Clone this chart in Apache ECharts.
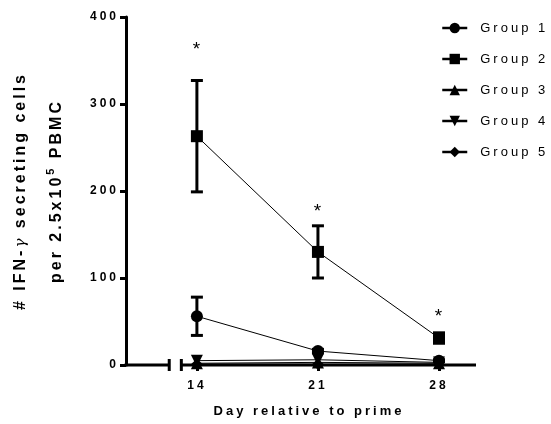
<!DOCTYPE html>
<html><head><meta charset="utf-8">
<script src="https://cdn.jsdelivr.net/npm/echarts@6/dist/echarts.min.js"></script>
<style>html,body{margin:0;padding:0;background:#fff}#c{width:551px;height:424px}</style>
</head><body><div id="c"></div>
<script>
// letter spacing like the original (Prism-style) text
const LS = '3px';
(function(){
  const p = CanvasRenderingContext2D.prototype;
  ['fillText','strokeText','measureText'].forEach(function(fn){
    const o = p[fn];
    p[fn] = function(){ try{ this.letterSpacing = LS; }catch(e){} return o.apply(this, arguments); };
  });
})();

const days = [14, 21, 28];
const groupNames = ['Group 1', 'Group 2', 'Group 3', 'Group 4', 'Group 5'];
const group1 = [56, 16, 5];
const group2 = [263, 130, 31];
const group3 = [2, 3, 2];
const group4 = [5, 6, 3];
const group5 = [1, 1, 1];
const group1Err = [22, 2, 1];
const group2Err = [64, 30, 6];
const starValues = [362, 176, 55];
const yTicks = [0, 100, 200, 300, 400];

const FONT = 'Liberation Sans, Arial, Helvetica, sans-serif';
const invTri = 'path://M0,0 L10,0 L5,9 Z';
const symbols = ['circle', 'rect', 'triangle', invTri, 'diamond'];
const sizes = [12, 12, 12, 12, [12, 11]];
const values = [group1, group2, group3, group4, group5];

function errData(v, e){ return days.map(function(d,i){ return [d, v[i]-e[i], v[i]+e[i]]; }); }

const lineSeries = values.map(function(v, k){
  return {
    name: groupNames[k], type: 'line', z: 3 + (k===1?2:0),
    data: days.map(function(d,i){ return [d, v[i]]; }),
    symbol: symbols[k], symbolSize: sizes[k], showAllSymbol: true,
    lineStyle: { color: '#000', width: 1 },
    itemStyle: { color: '#000', borderWidth: 0 },
    emphasis: { disabled: true }, animation: false
  };
});

function errSeries(v, e, z){
  return {
    type: 'custom', z: z, animation: false, silent: true,
    data: errData(v, e),
    renderItem: function(params, api){
      const x = api.value(0);
      const lo = api.coord([x, api.value(1)]);
      const hi = api.coord([x, api.value(2)]);
      const w = 6;
      const st = { stroke: '#000', lineWidth: 3 };
      return { type: 'group', children: [
        { type: 'line', shape: { x1: lo[0], y1: lo[1], x2: hi[0], y2: hi[1] }, style: st },
        { type: 'line', shape: { x1: lo[0]-w, y1: lo[1], x2: lo[0]+w, y2: lo[1] }, style: st },
        { type: 'line', shape: { x1: hi[0]-w, y1: hi[1], x2: hi[0]+w, y2: hi[1] }, style: st }
      ]};
    }
  };
}

const starSeries = {
  type: 'custom', z: 6, animation: false, silent: true,
  data: days.map(function(d,i){ return [d, starValues[i]]; }),
  renderItem: function(params, api){
    const p = api.coord([api.value(0), api.value(1)]);
    return { type: 'text', x: p[0], y: p[1], style: { text: '*', x: 1, y: 0, align: 'center', verticalAlign: 'middle', font: '19px ' + FONT, fill: '#000' } };
  }
};

const chart = echarts.init(document.getElementById('c'), null, { renderer: 'canvas' });
const XMIN = 9.9, XMAX = 30.14;
chart.setOption({
  animation: false,
  textStyle: { fontFamily: FONT, color: '#000' },
  grid: { left: 126, right: 75, top: 17, bottom: 59, containLabel: false, outerBoundsMode: 'none' },
  legend: {
    orient: 'vertical', left: 441, top: 20, padding: 0, itemWidth: 25, itemHeight: 13, itemGap: 15,
    lineStyle: { width: 2.5 },
    textStyle: { fontFamily: FONT, fontSize: 13, color: '#000', padding: [0,0,0,8] },
    data: groupNames, selectedMode: false
  },
  xAxis: {
    type: 'value', min: XMIN, max: XMAX,
    axisLine: { show: false },
    splitLine: { show: false },
    axisTick: { show: true, customValues: days, length: 6, lineStyle: { color: '#000', width: 3 } },
    axisLabel: { customValues: days, margin: 13, fontFamily: FONT, fontWeight: 'bold', fontSize: 12, color: '#000' },
    name: 'Day relative to prime', nameLocation: 'middle', nameGap: 38,
    nameTextStyle: { fontFamily: FONT, fontWeight: 'bold', fontSize: 13, color: '#000', padding: [0,0,0,16] }
  },
  yAxis: {
    type: 'value', min: 0, max: 400, interval: 100,
    axisLine: { show: true, onZero: false, lineStyle: { color: '#000', width: 3 } },
    axisTick: { show: true, length: 6, lineStyle: { color: '#000', width: 3 } },
    splitLine: { show: false },
    axisLabel: { margin: 7, fontFamily: FONT, fontWeight: 'bold', fontSize: 12, color: '#000',
      formatter: function(v){ return yTicks.indexOf(v) >= 0 ? String(v) : ''; } },
    name: '{b|# IFN-}{g|γ}{b| secreting cells}\n{b|per 2.5x10}{s|5}{b| PBMC}',
    nameLocation: 'middle', nameGap: 51,
    nameTextStyle: { lineHeight: 36, rich: {
      b: { fontFamily: FONT, fontWeight: 'bold', fontSize: 16, color: '#000', lineHeight: 36 },
      g: { fontFamily: 'DejaVu Serif, serif', fontStyle: 'italic', fontWeight: 'normal', fontSize: 15, color: '#000', lineHeight: 36 },
      s: { fontFamily: FONT, fontWeight: 'bold', fontSize: 11, color: '#000', lineHeight: 36, padding: [0,0,12,0] }
    } }
  },
  series: lineSeries.concat([errSeries(group1, group1Err, 4), errSeries(group2, group2Err, 6), starSeries])
});

// x axis line with a break, drawn in data space
function px(v){ return chart.convertToPixel({ xAxisIndex: 0, yAxisIndex: 0 }, v); }
const breakStart = 12.4, breakEnd = 13.1;
const a0 = px([XMIN, 0]), b0 = px([breakStart, 0]), b1 = px([breakEnd, 0]), a1 = px([XMAX, 0]);
const ls = { stroke: '#000', lineWidth: 3 };
chart.setOption({ graphic: [
  { type: 'line', z: 2, shape: { x1: a0[0]-1.5, y1: a0[1], x2: b0[0], y2: b0[1] }, style: ls },
  { type: 'line', z: 2, shape: { x1: b1[0], y1: b1[1], x2: a1[0], y2: a1[1] }, style: ls },
  { type: 'line', z: 2, shape: { x1: b0[0], y1: b0[1]-6, x2: b0[0], y2: b0[1]+6 }, style: ls },
  { type: 'line', z: 2, shape: { x1: b1[0], y1: b1[1]-6, x2: b1[0], y2: b1[1]+6 }, style: ls }
]});
</script></body></html>
